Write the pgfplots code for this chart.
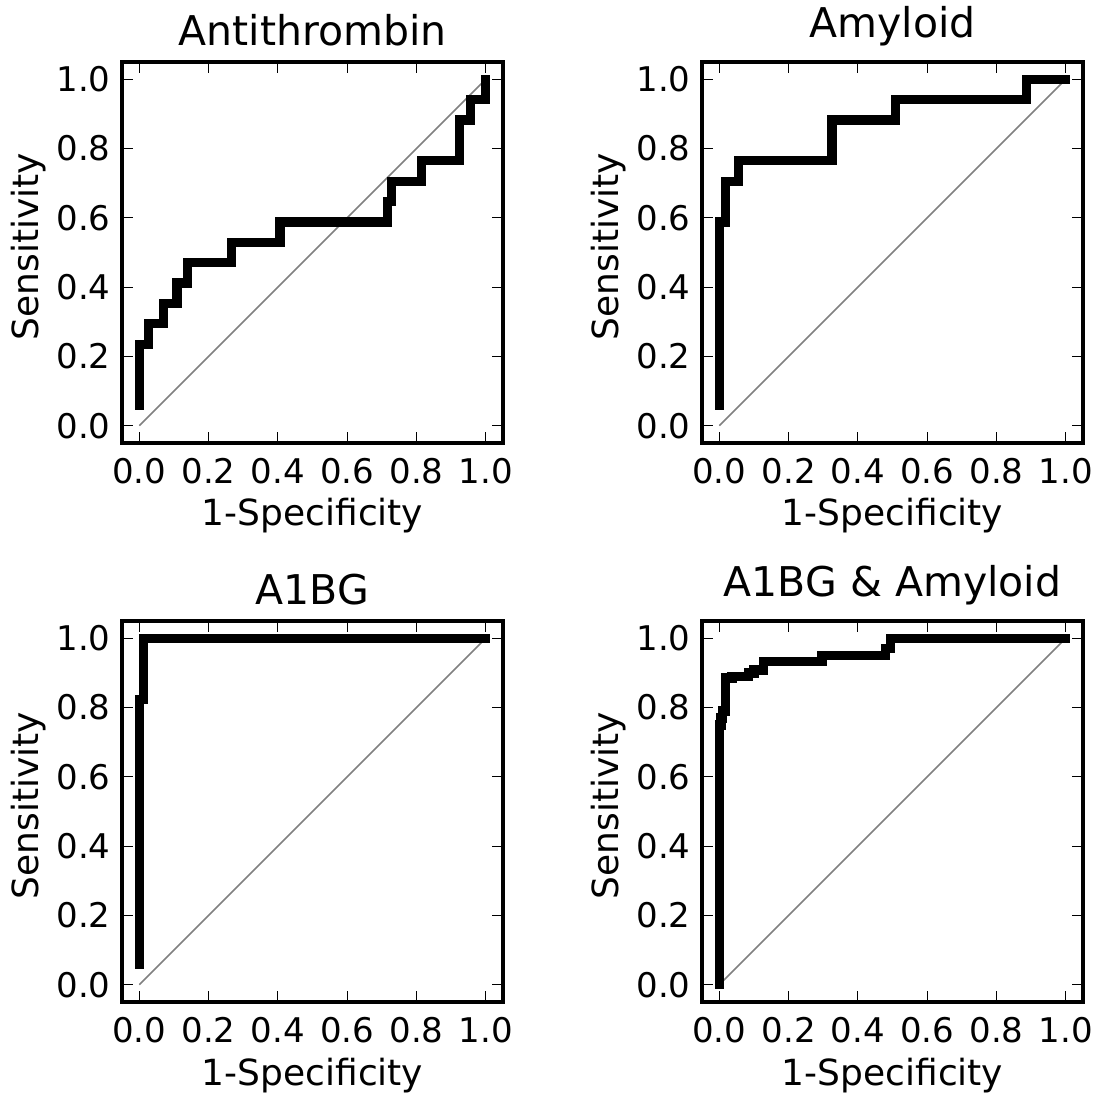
\documentclass[border=0pt]{standalone}
\usepackage{fontspec}
\setmainfont{DejaVu Sans}
\usepackage{pgfplots}
\pgfplotsset{compat=1.18}
\pgfplotsset{rocax/.style={
  scale only axis, width=190.5pt, height=190.5pt,
  xmin=-0.05, xmax=1.05, ymin=-0.05, ymax=1.05,
  xtick={0,0.2,0.4,0.6,0.8,1.0}, ytick={0,0.2,0.4,0.6,0.8,1.0},
  tick align=inside, tick pos=both,
  major tick length=5.5pt,
  every tick/.style={black, line width=0.6pt},
  axis line style={line width=1.65pt},
  /pgf/number format/fixed, /pgf/number format/fixed zerofill,
  /pgf/number format/precision=1, /pgf/number format/assume math mode=true,
  xticklabel style={font=\fontsize{17}{20}\selectfont, inner sep=0pt, anchor=north, yshift=-7.5pt},
  yticklabel style={font=\fontsize{17}{20}\selectfont, inner sep=0pt, anchor=east, xshift=-5.5pt},
  title style={font=\fontsize{20.5}{24}\selectfont, inner sep=0pt, at={(axis description cs:0.5,1.010)}, anchor=south},
  xlabel style={font=\fontsize{18}{21}\selectfont, inner sep=0pt, at={(axis description cs:0.5,-0.145)}, anchor=north},
  ylabel style={font=\fontsize{18}{21}\selectfont, inner sep=0pt, at={(axis description cs:-0.244,0.515)}, anchor=center},
  xlabel={1-Specificity}, ylabel={Sensitivity},
},
diag/.style={color=gray, line width=0.8pt},
roc/.style={black, line width=4.67pt, line cap=rect, line join=miter}
}
\begin{document}
\begin{tikzpicture}
\useasboundingbox (0,0) rectangle (553.5pt,-547.5pt);
\begin{axis}[rocax, at={(61pt,-221.5pt)}, anchor=south west, title={Antithrombin}]
\addplot[diag] coordinates {(0,0) (1,1)};
\addplot[roc] coordinates {
(0,0.0588) (0,0.2353) (0.026,0.2353) (0.026,0.2941) (0.069,0.2941) (0.069,0.3529)
(0.109,0.3529) (0.109,0.4118) (0.139,0.4118) (0.139,0.4706) (0.266,0.4706) (0.266,0.5294)
(0.406,0.5294) (0.406,0.5882) (0.716,0.5882) (0.716,0.6471) (0.729,0.6471) (0.729,0.7059)
(0.815,0.7059) (0.815,0.7647) (0.925,0.7647) (0.925,0.8824) (0.956,0.8824) (0.956,0.9412)
(1.0,0.9412) (1.0,1.0)};
\end{axis}
\begin{axis}[rocax, at={(351pt,-221.5pt)}, anchor=south west, title={Amyloid}]
\addplot[diag] coordinates {(0,0) (1,1)};
\addplot[roc] coordinates {
(0,0.0588) (0,0.5882) (0.017,0.5882) (0.017,0.7059) (0.056,0.7059) (0.056,0.7647)
(0.325,0.7647) (0.325,0.8824) (0.508,0.8824) (0.508,0.9412) (0.886,0.9412) (0.886,1.0) (1.0,1.0)};
\end{axis}
\begin{axis}[rocax, at={(61pt,-501pt)}, anchor=south west, title={A1BG}]
\addplot[diag] coordinates {(0,0) (1,1)};
\addplot[roc] coordinates {
(0,0.0588) (0,0.8235) (0.013,0.8235) (0.013,1.0) (1.0,1.0)};
\end{axis}
\begin{axis}[rocax, at={(351pt,-501pt)}, anchor=south west, title={A1BG \& Amyloid}]
\addplot[diag] coordinates {(0,0) (1,1)};
\addplot[roc] coordinates {
(0,0) (0,0.75) (0.005,0.75) (0.005,0.77) (0.01,0.77) (0.01,0.79) (0.017,0.79)
(0.017,0.885) (0.037,0.885) (0.037,0.89) (0.085,0.89) (0.085,0.90) (0.10,0.90)
(0.10,0.909) (0.128,0.909) (0.128,0.933) (0.296,0.933) (0.296,0.951) (0.48,0.951)
(0.48,0.97) (0.495,0.97) (0.495,1.0) (1.0,1.0)};
\end{axis}
\end{tikzpicture}
\end{document}
